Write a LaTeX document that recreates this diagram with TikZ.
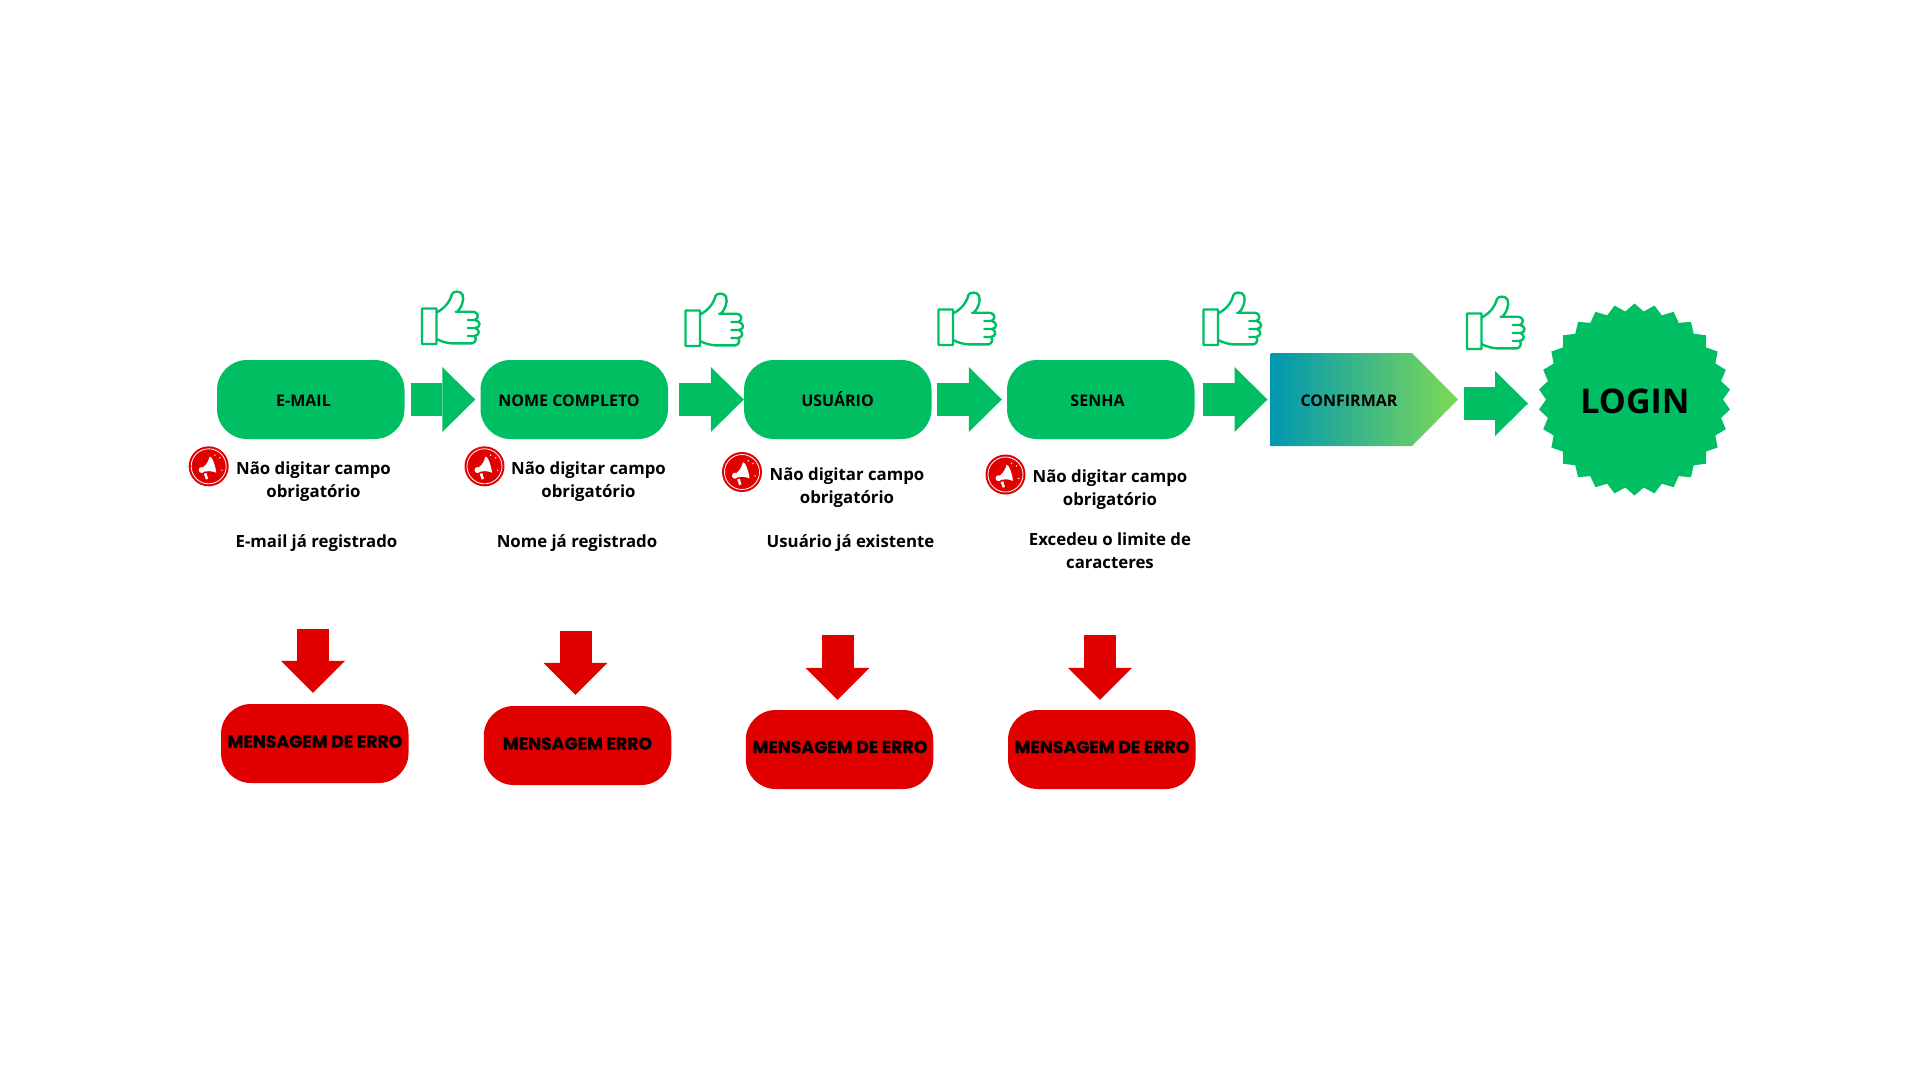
\documentclass[tikz,border=0pt]{standalone}
\usepackage{fontspec}
\setmainfont{Open Sans}
\newfontfamily\msgfont[BoldFeatures={FakeBold=0.5}]{Poppins}
\usetikzlibrary{arrows.meta,shapes.geometric}
\definecolor{okgreen}{HTML}{00BF63}
\definecolor{errred}{HTML}{E00000}
\definecolor{gradblue}{HTML}{0097B2}
\definecolor{gradlime}{HTML}{7ED957}
\tikzset{
  okpill/.style={fill=okgreen, rounded corners=30pt, minimum width=187.5pt, minimum height=79pt, inner sep=0pt},
  errpill/.style={fill=errred, rounded corners=30pt, minimum width=187.5pt, minimum height=79pt, inner sep=0pt},
  stepname/.style={font=\bfseries\fontsize{16}{20}\selectfont, inner sep=0pt, anchor=base},
  errname/.style={font=\msgfont\bfseries\fontsize{17.3}{20}\selectfont, inner sep=0pt, anchor=base},
  note/.style={font=\bfseries\fontsize{16.8}{23}\selectfont, align=center, inner sep=0pt},
  okarrow/.style={draw=okgreen, line width=33pt, -{Triangle[length=33pt,width=65pt,line width=0pt,fill=okgreen]}},
  errarrow/.style={draw=errred, line width=32pt, -{Triangle[length=32pt,width=64pt,line width=0pt,fill=errred]}},
  pics/thumb/.style={code={
    \draw[okgreen, line width=2.4pt, line join=round, line cap=round]
      (0.5,17.5) rectangle (15,53)
      (15,21.5) .. controls (22,18) and (28,12) .. (30.5,3)
      .. controls (31.5,0) and (39,-0.5) .. (41,3.5)
      .. controls (43,9) and (40,17) .. (35.7,20.7)
      (34,20.7) -- (51.5,20.7) .. controls (57,21) and (58,27) .. (53.5,29) -- (46.3,29)
      (53.5,29) .. controls (59,30) and (60,36) .. (54,37) -- (46.3,37)
      (54,37) .. controls (58.5,39) and (58.5,44) .. (53,45) -- (46.3,45)
      (53,45) .. controls (55.5,47) and (54,52) .. (50.5,52.3) -- (30,52.3)
      .. controls (25,52) and (20,50.5) .. (15,48);
  }},
  pics/megaphone/.style={code={
    \fill[errred] (0,0) circle (20);
    \draw[white, line width=0.8pt] (0,0) circle (17.5);
    \fill[white] (-5.5,0.8) .. controls (-2,-1.5) and (0,-6) .. (1,-9.8)
      .. controls (3.5,-10) and (6.5,-1) .. (7.6,6.4)
      .. controls (3,4.5) and (-1,4.5) .. (-4,5.5) -- cycle;
    \fill[white] (-7,3.7) circle (3);
    \fill[white] (-4.8,7.5) -- (-2.2,6.8) -- (-0.6,12.5) -- (-2.8,13.2) -- cycle;
    \draw[white, line width=0.9pt] (5.8,-10.5) -- (6.6,-11.8) (10.5,-8) -- (11.6,-9) (12.5,3.6) -- (13.8,4.2);
  }},
}
\begin{document}
\begin{tikzpicture}[x=1pt, y=-1pt]
  \useasboundingbox (0,0) rectangle (1920,1080);

  % top row
  \node[okpill] (email) at (310.75,399.5) {};
  \node[okpill] (nome) at (574.25,399.5) {};
  \node[okpill] (usuario) at (837.75,399.5) {};
  \node[okpill] (senha) at (1100.75,399.5) {};
  \shade[left color=gradblue, right color=gradlime] (1270.5,353) -- (1412,353) -- (1458,399.5) -- (1412,446) -- (1270.5,446) -- cycle;
  \coordinate (confirmarin) at (1270.5,399.5);
  \coordinate (confirmarout) at (1458,403.5);
  \node[star, star points=30, star point ratio=1.085, fill=okgreen, minimum size=192pt, inner sep=0pt] (login) at (1634.5,399.5) {};
  \coordinate (loginin) at (1540,403.5);

  \node[stepname] (emailtxt) at (303.5,406.6) {E-MAIL};
  \node[stepname] (nometxt) at (569,406.6) {NOME COMPLETO};
  \node[stepname] (usuariotxt) at (837.5,406.6) {USUÁRIO};
  \node[stepname] (senhatxt) at (1097.5,406.6) {SENHA};
  \node[stepname] (confirmartxt) at (1349,406.6) {CONFIRMAR};
  \node[font=\bfseries\fontsize{34}{36}\selectfont, inner sep=0pt, anchor=base] (logintxt) at (1635,413) {LOGIN};

  \draw[okarrow, shorten <=6pt, shorten >=5pt] (email) -- (nome);
  \draw[okarrow, shorten <=11pt] (nome) -- (usuario);
  \draw[okarrow, shorten <=5pt, shorten >=5pt] (usuario) -- (senha);
  \draw[okarrow, shorten <=8pt, shorten >=3pt] (senha) -- (confirmarin);
  \draw[okarrow, shorten <=5.8pt, shorten >=12pt] (confirmarout) -- (loginin);

  \pic at (421.5,291) {thumb};
  \pic at (685,293) {thumb};
  \pic at (938,292) {thumb};
  \pic at (1203,292) {thumb};
  \pic at (1466.5,296) {thumb};

  % validation notes
  \pic at (208.7,466.3) {megaphone};
  \pic at (484.5,466.3) {megaphone};
  \pic at (742,472) {megaphone};
  \pic at (1005.5,474.5) {megaphone};

  \node[note] (notea) at (313.5,481.2) {Não digitar campo\\obrigatório};
  \node[note] (noteb) at (588.5,481.2) {Não digitar campo\\obrigatório};
  \node[note] (notec) at (847,487.2) {Não digitar campo\\obrigatório};
  \node[note] (noted) at (1110,489.2) {Não digitar campo\\obrigatório};
  \node[note] (existsa) at (316.5,542.6) {E-mail já registrado};
  \node[note] (existsb) at (577,542.6) {Nome já registrado};
  \node[note] (existsc) at (850.5,542.6) {Usuário já existente};
  \node[note] (existsd) at (1110,550.5) {Excedeu o limite de\\caracteres};

  % error row
  \node[errpill] (erra) at (314.75,743.5) {};
  \node[errpill] (errb) at (577.5,745.5) {};
  \node[errpill] (errc) at (839.5,749.5) {};
  \node[errpill] (errd) at (1101.75,749.5) {};
  \node[errname] (erratxt) at (315,747.6) {MENSAGEM DE ERRO};
  \node[errname] (errbtxt) at (577.5,749.6) {MENSAGEM ERRO};
  \node[errname] (errctxt) at (840,753.1) {MENSAGEM DE ERRO};
  \node[errname] (errdtxt) at (1102,753.1) {MENSAGEM DE ERRO};

  \coordinate (froma) at (313,629);
  \coordinate (fromb) at (575.5,631);
  \coordinate (fromc) at (837.5,635);
  \coordinate (fromd) at (1100,635);
  \draw[errarrow, shorten >=11pt] (froma) -- (froma |- erra.north);
  \draw[errarrow, shorten >=11pt] (fromb) -- (fromb |- errb.north);
  \draw[errarrow, shorten >=10pt] (fromc) -- (fromc |- errc.north);
  \draw[errarrow, shorten >=10pt] (fromd) -- (fromd |- errd.north);
\end{tikzpicture}
\end{document}
